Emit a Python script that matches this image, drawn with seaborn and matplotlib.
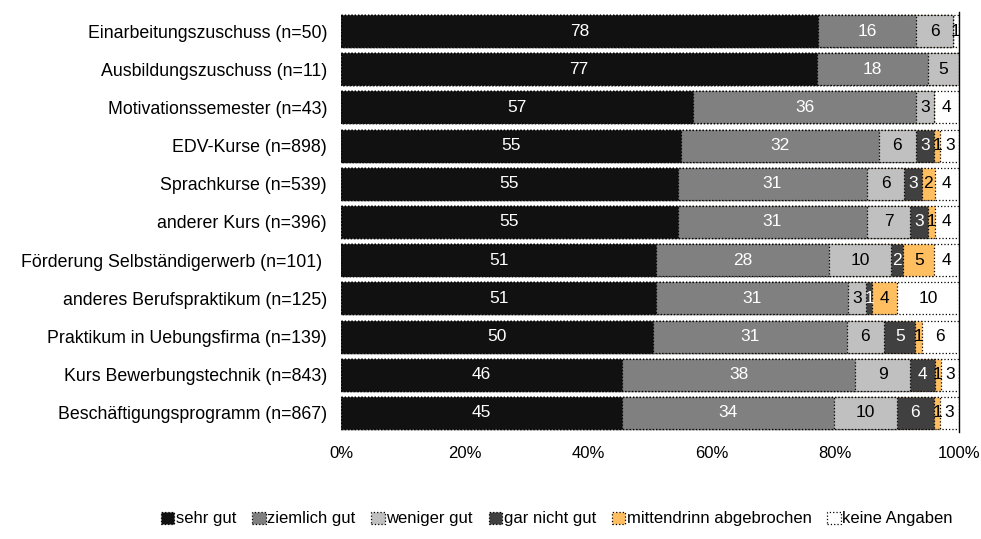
import numpy as np
import pandas as pd
import matplotlib
matplotlib.use("Agg")
import matplotlib.pyplot as plt
from matplotlib.patches import Patch
import seaborn as sns

categories = [
    "Einarbeitungszuschuss (n=50)",
    "Ausbildungszuschuss (n=11)",
    "Motivationssemester (n=43)",
    "EDV-Kurse (n=898)",
    "Sprachkurse (n=539)",
    "anderer Kurs (n=396)",
    "Förderung Selbständigerwerb (n=101) ",
    "anderes Berufspraktikum (n=125)",
    "Praktikum in Uebungsfirma (n=139)",
    "Kurs Bewerbungstechnik (n=843)",
    "Beschäftigungsprogramm (n=867)",
]
sehr_gut       = [78, 77, 57, 55, 55, 55, 51, 51, 50, 46, 45]
ziemlich_gut   = [16, 18, 36, 32, 31, 31, 28, 31, 31, 38, 34]
weniger_gut    = [6, 5, 3, 6, 6, 7, 10, 3, 6, 9, 10]
gar_nicht_gut  = [0, 0, 0, 3, 3, 3, 2, 1, 5, 4, 6]
abgebrochen    = [0, 0, 0, 1, 2, 1, 5, 4, 1, 1, 1]
keine_angaben  = [1, 0, 4, 3, 4, 4, 4, 10, 6, 3, 3]

series_names = ["sehr gut", "ziemlich gut", "weniger gut", "gar nicht gut",
                "mittendrinn abgebrochen", "keine Angaben"]
series = [sehr_gut, ziemlich_gut, weniger_gut, gar_nicht_gut, abgebrochen, keine_angaben]
colors = ["#111111", "#808080", "#c0c0c0", "#404040", "#ffbf60", "#ffffff"]
text_colors = ["white", "white", "black", "white", "black", "black"]
xticks = [0, 20, 40, 60, 80, 100]
xtick_labels = ["0%", "20%", "40%", "60%", "80%", "100%"]

sns.set_theme(style="white")
plt.rcParams["font.family"] = ["Liberation Sans", "DejaVu Sans"]
plt.rcParams["text.color"] = "black"
plt.rcParams["xtick.color"] = "black"
plt.rcParams["ytick.color"] = "black"

vals = np.array(series, dtype=float)          # shape (6, n)
totals = vals.sum(axis=0)
shares = vals / totals * 100                 # 100 % stacked
cum = np.cumsum(shares, axis=0)

fig = plt.figure(figsize=(9.81, 5.39), dpi=100)
ax = fig.add_axes([341 / 981, 1 - 432 / 539, 618 / 981, 420 / 539])

# draw cumulative totals from the outermost layer inwards
for i in range(len(series) - 1, -1, -1):
    df = pd.DataFrame({"cat": categories, "val": cum[i]})
    sns.barplot(data=df, x="val", y="cat", orient="h", color=colors[i],
                saturation=1, width=0.84, edgecolor="black", linewidth=0.9,
                linestyle=":", ax=ax, order=categories)

for i in range(len(series)):
    for j in range(len(categories)):
        v = vals[i, j]
        if v <= 0:
            continue
        left = cum[i, j] - shares[i, j]
        ax.text(left + shares[i, j] / 2, j, f"{int(v)}", ha="center", va="center",
                color=text_colors[i], fontsize=12.5)

ax.set_xlim(0, 100)
ax.set_ylim(len(categories) - 0.5, -0.5)
ax.set_xticks(xticks)
ax.set_xticklabels(xtick_labels, fontsize=12)
ax.tick_params(axis="y", labelsize=12.8, length=0, pad=10)
ax.tick_params(axis="x", length=0, pad=10)
ax.set_xlabel("")
ax.set_ylabel("")
for side in ["left", "bottom", "top"]:
    ax.spines[side].set_visible(False)
ax.spines["right"].set_color("black")
ax.spines["right"].set_linewidth(1.0)

handles = [Patch(facecolor=c, edgecolor="black", linestyle=":", linewidth=0.9)
           for c in colors]
fig.legend(handles, series_names, loc="center", bbox_to_anchor=(557 / 981, 1 - 519 / 539),
           ncol=6, frameon=False, fontsize=12, handlelength=0.8, handleheight=0.7,
           handletextpad=0.1, columnspacing=0.95)

fig.savefig("out.png", dpi=100)
